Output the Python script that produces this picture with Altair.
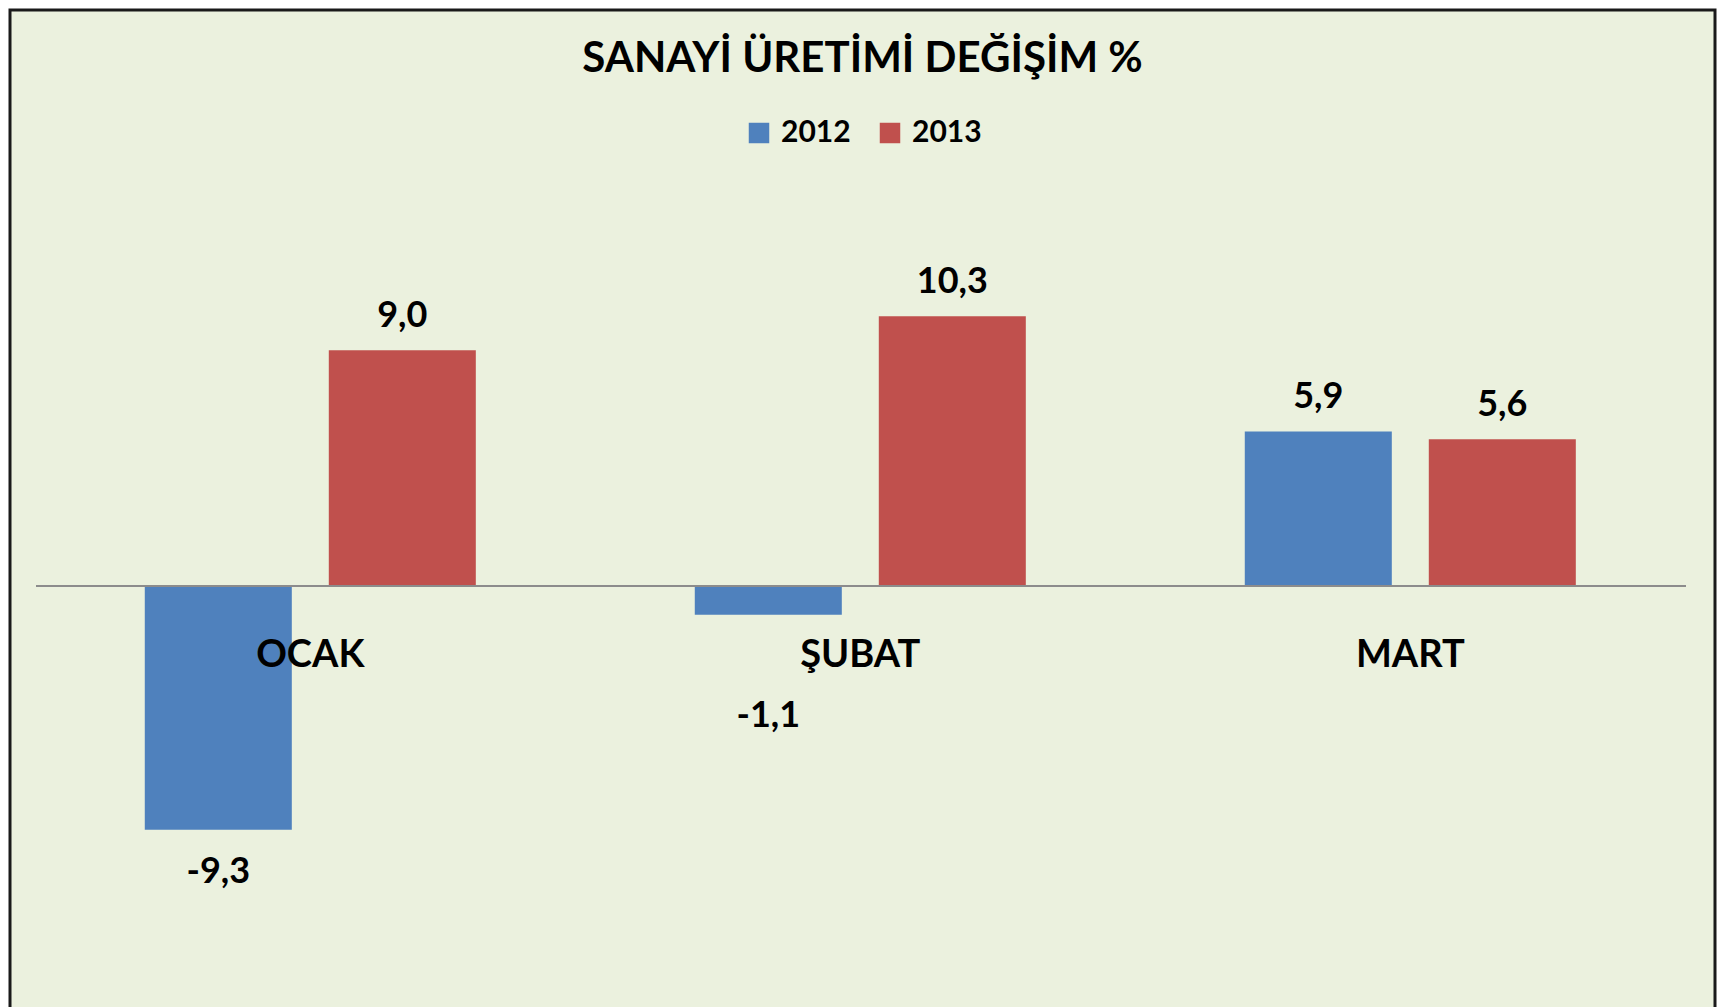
import altair as alt
import pandas as pd

# ---- data ----
months = ["OCAK", "ŞUBAT", "MART"]
years = ["2012", "2013"]
values_2012 = [-9.3, -1.1, 5.9]
values_2013 = [9.0, 10.3, 5.6]

title_text = "SANAYİ ÜRETİMİ DEĞİŞİM %"
colors = ["#4F81BD", "#C0504D"]

rows = []
for m, a, b in zip(months, values_2012, values_2013):
    rows.append({"ay": m, "yil": years[0], "deger": a})
    rows.append({"ay": m, "yil": years[1], "deger": b})
df = pd.DataFrame(rows)
cat_df = pd.DataFrame({"ay": months, "sifir": [0.0] * len(months)})

FONT = "Lato"
W, H = 1705, 1010

x_scale = alt.Scale(domain=months, paddingInner=0, paddingOuter=0.05, align=0.46)
y_scale = alt.Scale(domain=[-16.565, 21.985], nice=False, zero=False)
off_scale = alt.Scale(domain=years, paddingInner=0.201, paddingOuter=0.595)

x_enc = alt.X("ay:N", scale=x_scale, axis=None)
off_enc = alt.XOffset("yil:N", scale=off_scale)

base = alt.Chart(df).transform_calculate(
    sifir="0",
    etiket="(datum.deger < 0 ? '-' : '') + replace(format(abs(datum.deger), '.1f'), '.', ',')",
    konum="datum.deger < 0 ? min(datum.deger, -3.34) : datum.deger",
)

bars = base.mark_bar().encode(
    x=x_enc,
    xOffset=off_enc,
    y=alt.Y("deger:Q", scale=y_scale, axis=None),
    y2="sifir:Q",
    color=alt.Color(
        "yil:N",
        scale=alt.Scale(domain=years, range=colors),
        legend=alt.Legend(
            title=None,
            orient="none",
            legendX=734,
            legendY=108,
            direction="horizontal",
            symbolType="square",
            symbolSize=420,
            symbolStrokeWidth=0,
            symbolOpacity=1,
            labelFont=FONT,
            labelFontSize=30,
            labelFontWeight="bold",
            labelColor="black",
            labelOffset=7,
            columnPadding=24,
            padding=0,
        ),
    ),
)

zero_line = alt.Chart(cat_df).mark_rule(color="#8C8C8C", strokeWidth=2).encode(
    y=alt.Y("sifir:Q", scale=y_scale, axis=None),
    x=alt.value(26),
    x2=alt.value(1676),
)

pos_labels = base.transform_filter("datum.deger >= 0").mark_text(
    font=FONT, fontSize=36, fontWeight="bold", color="black",
    baseline="alphabetic", dy=-23,
).encode(
    x=x_enc,
    xOffset=off_enc,
    y=alt.Y("konum:Q", scale=y_scale, axis=None),
    text="etiket:N",
)

neg_labels = base.transform_filter("datum.deger < 0").mark_text(
    font=FONT, fontSize=36, fontWeight="bold", color="black",
    baseline="alphabetic", dy=53,
).encode(
    x=x_enc,
    xOffset=off_enc,
    y=alt.Y("konum:Q", scale=y_scale, axis=None),
    text="etiket:N",
)

cat_labels = alt.Chart(cat_df).mark_text(
    font=FONT, fontSize=38, fontWeight="bold", color="black",
    baseline="alphabetic", dy=81,
).encode(
    x=x_enc,
    y=alt.Y("sifir:Q", scale=y_scale, axis=None),
    text="ay:N",
)

chart = alt.layer(bars, zero_line, pos_labels, neg_labels, cat_labels).properties(
    width=W,
    height=H,
    title=alt.TitleParams(
        text=title_text,
        anchor="middle",
        orient="top",
        offset=-104,
        baseline="alphabetic",
        font=FONT,
        fontSize=42,
        fontWeight="bold",
        color="black",
    ),
    autosize=alt.AutoSizeParams(type="none"),
    padding={"left": 2, "top": 2, "right": 2, "bottom": 2},
    background="white",
).configure_view(
    fill="#EBF1DE",
    stroke="#1A1A1A",
    strokeWidth=3,
)

chart.save("out.html", embed_options={"renderer": "svg", "actions": False})
